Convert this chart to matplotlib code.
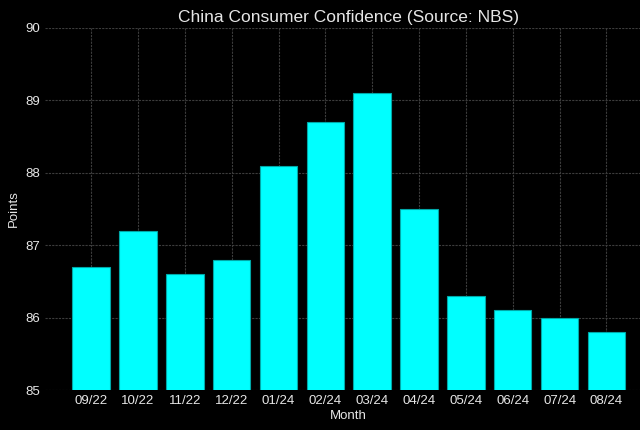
import matplotlib
matplotlib.use('Agg')
import matplotlib.pyplot as plt

plt.rcParams['font.family'] = ['Liberation Sans', 'DejaVu Sans']

#data
months = ['09/22', '10/22', '11/22', '12/22', '01/24', '02/24',
          '03/24', '04/24', '05/24', '06/24', '07/24', '08/24']
points = [86.7, 87.2, 86.6, 86.8, 88.1, 88.7, 89.1, 87.5, 86.3, 86.1, 86.0, 85.8]

txt = '#e6e6e6'

fig = plt.figure(figsize=(6.4, 4.3), dpi=100, facecolor='black')
ax = fig.add_axes([0.07, 0.093, 0.95, 0.842], facecolor='black')

ax.bar(months, points, width=0.8, color='#00ffff', edgecolor='#00a8a8', linewidth=0.8, zorder=3)
ax.set_ylim(85, 90)
ax.set_yticks([85, 86, 87, 88, 89, 90])

ax.set_title('China Consumer Confidence (Source: NBS)', color=txt, fontsize=12.5, pad=4)
ax.set_xlabel('Month', color=txt, fontsize=9.5, labelpad=2)
ax.set_ylabel('Points', color=txt, fontsize=9.5)
ax.tick_params(colors=txt, labelsize=9.5, length=0)
ax.grid(True, color='#3c3c3c', linestyle=(0, (2, 1)), linewidth=0.8, zorder=0)
for s in ax.spines.values():
    s.set_visible(False)

fig.savefig('out.png', dpi=100, facecolor='black')
